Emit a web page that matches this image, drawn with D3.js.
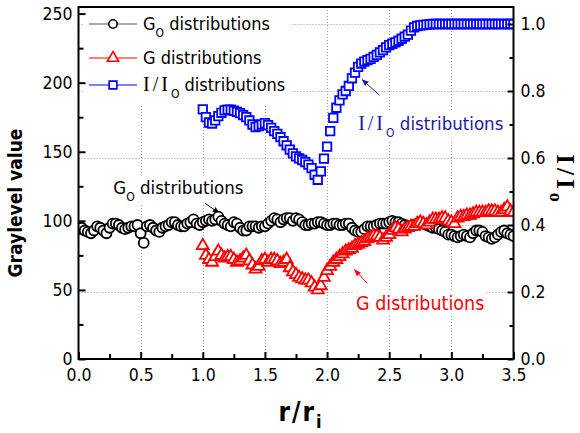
<!DOCTYPE html>
<html>
<head>
<meta charset="UTF-8">
<title>Graylevel distributions</title>
<style>
  body { margin: 0; background: #fff; }
  svg text { font-family: "DejaVu Sans Condensed", "DejaVu Sans", sans-serif; font-stretch: condensed; }
  .serif { font-family: "Liberation Serif", "Times New Roman", serif !important; font-stretch: normal !important; }
</style>
</head>
<body>
<svg width="580" height="433"></svg>
<script src="https://d3js.org/d3.v7.min.js"></script>
<script>

// ---- data ----
// G_O (black circles, left axis)
const goData = [
  [0.000,94],[0.025,95],[0.050,93],[0.075,92],[0.100,91],[0.125,93],[0.150,96],[0.175,95],[0.200,93],[0.225,91],
  [0.250,95],[0.275,98],[0.300,98],[0.325,97],[0.350,95],[0.375,94],[0.400,95],[0.425,96],[0.450,96],[0.475,97],
  [0.500,91],[0.525,84],[0.550,96],[0.575,97],[0.600,95],[0.625,93],[0.650,92],[0.675,95],[0.700,96],[0.725,97],
  [0.750,99],[0.775,99],[0.800,97],[0.825,96],[0.850,96],[0.875,98],[0.900,99],[0.925,101],[0.950,98],[0.975,97],
  [1.000,99],[1.025,100],[1.050,101],[1.075,100],[1.100,101],[1.125,103],[1.150,100],[1.175,98],[1.200,97],[1.225,96],
  [1.250,99],[1.275,98],[1.300,95],[1.325,93],[1.350,93],[1.375,96],[1.400,96],[1.425,96],[1.450,95],[1.475,96],
  [1.500,96],[1.525,98],[1.550,100],[1.575,102],[1.600,101],[1.625,99],[1.650,101],[1.675,102],[1.700,102],[1.725,100],
  [1.750,102],[1.775,101],[1.800,99],[1.825,97],[1.850,97],[1.875,98],[1.900,98],[1.925,99],[1.950,99],[1.975,98],
  [2.000,97],[2.025,97],[2.050,98],[2.075,98],[2.100,97],[2.125,97],[2.150,98],[2.175,98],[2.200,95],[2.225,93],
  [2.250,92],[2.275,92],[2.300,94],[2.325,96],[2.350,96],[2.375,96],[2.400,97],[2.425,98],[2.450,98],[2.475,98],
  [2.500,99],[2.525,100],[2.550,99],[2.575,99],[2.600,98],[2.625,97],[2.650,96],[2.675,96],[2.700,97],[2.725,98],
  [2.750,99],[2.775,98],[2.800,97],[2.825,96],[2.850,95],[2.875,95],[2.900,94],[2.925,93],[2.950,92],[2.975,90],
  [3.000,90],[3.025,89],[3.050,88],[3.075,89],[3.100,90],[3.125,89],[3.150,88],[3.175,91],[3.200,93],[3.225,93],
  [3.250,92],[3.275,89],[3.300,88],[3.325,87],[3.350,88],[3.375,90],[3.400,92],[3.425,93],[3.450,91],[3.475,90],
  [3.500,89]
];

// G (red triangles, left axis)
const gData = [
  [1.000,82],[1.025,75],[1.050,72],[1.075,70],[1.100,74],[1.125,78],[1.150,75],[1.175,73],[1.200,74],[1.225,74],
  [1.250,72],[1.275,70],[1.300,71],[1.325,73],[1.350,75],[1.375,71],[1.400,68],[1.425,65],[1.450,67],[1.475,71],
  [1.500,72],[1.525,70],[1.550,72],[1.575,72],[1.600,71],[1.625,69],[1.650,70],[1.675,72],[1.700,66],[1.725,63],
  [1.750,61],[1.775,59],[1.800,58],[1.825,57],[1.850,57],[1.875,55],[1.900,52],[1.925,50],[1.950,53],[1.975,59],
  [2.000,64],[2.025,67],[2.050,70],[2.075,72],[2.100,74],[2.125,76],[2.150,78],[2.175,79],[2.200,80],[2.225,82],
  [2.250,83],[2.275,84],[2.300,85],[2.325,87],[2.350,88],[2.375,89],[2.400,89],[2.425,88],[2.450,86],[2.475,88],
  [2.500,90],[2.525,93],[2.550,95],[2.575,94],[2.600,92],[2.625,94],[2.650,95],[2.675,96],[2.700,96],[2.725,98],
  [2.750,99],[2.775,98],[2.800,97],[2.825,99],[2.850,101],[2.875,101],[2.900,101],[2.925,102],[2.950,102],[2.975,100],
  [3.000,99],[3.025,98],[3.050,102],[3.075,103],[3.100,103],[3.125,104],[3.150,104],[3.175,105],[3.200,106],[3.225,106],
  [3.250,106],[3.275,106],[3.300,107],[3.325,107],[3.350,107],[3.375,106],[3.400,106],[3.425,108],[3.450,110],[3.475,107],
  [3.500,106]
];

// I/I_O (blue squares, right axis)
const ratioData = [
  [1.000,0.745],[1.025,0.722],[1.050,0.706],[1.075,0.703],[1.100,0.712],[1.125,0.725],[1.150,0.735],[1.175,0.742],[1.200,0.744],[1.225,0.744],
  [1.250,0.741],[1.275,0.738],[1.300,0.734],[1.325,0.728],[1.350,0.722],[1.375,0.712],[1.400,0.700],[1.425,0.692],[1.450,0.695],[1.475,0.700],
  [1.500,0.704],[1.525,0.698],[1.550,0.690],[1.575,0.680],[1.600,0.672],[1.625,0.662],[1.650,0.650],[1.675,0.638],[1.700,0.625],[1.725,0.614],
  [1.750,0.605],[1.775,0.599],[1.800,0.594],[1.825,0.588],[1.850,0.580],[1.875,0.570],[1.900,0.550],[1.925,0.535],[1.950,0.560],[1.975,0.598],
  [2.000,0.634],[2.025,0.680],[2.050,0.720],[2.075,0.750],[2.100,0.772],[2.125,0.790],[2.150,0.800],[2.175,0.815],[2.200,0.838],[2.225,0.855],
  [2.250,0.872],[2.275,0.882],[2.300,0.888],[2.325,0.892],[2.350,0.896],[2.375,0.902],[2.400,0.908],[2.425,0.915],[2.450,0.922],[2.475,0.930],
  [2.500,0.937],[2.525,0.941],[2.550,0.945],[2.575,0.950],[2.600,0.956],[2.625,0.962],[2.650,0.968],[2.675,0.980],[2.700,0.990],[2.725,0.994],
  [2.750,0.996],[2.775,0.997],[2.800,0.998],[2.825,0.999],[2.850,1.000],[2.875,1.000],[2.900,1.000],[2.925,1.000],[2.950,1.000],[2.975,1.000],
  [3.000,1.000],[3.025,1.000],[3.050,1.000],[3.075,1.000],[3.100,1.000],[3.125,1.000],[3.150,1.000],[3.175,1.000],[3.200,1.000],[3.225,1.000],
  [3.250,1.000],[3.275,1.000],[3.300,1.000],[3.325,1.000],[3.350,1.000],[3.375,1.000],[3.400,1.000],[3.425,1.000],[3.450,1.000],[3.475,1.000],
  [3.500,1.000]
];

// tick values
const xMajor = [0, 0.5, 1.0, 1.5, 2.0, 2.5, 3.0, 3.5];
const xMinor = [0.25, 0.75, 1.25, 1.75, 2.25, 2.75, 3.25];
const leftMajor = [0, 50, 100, 150, 200, 250];
const leftMinor = [25, 75, 125, 175, 225];
const rightMajor = [0, 0.2, 0.4, 0.6, 0.8, 1.0];
const rightMinor = [0.1, 0.3, 0.5, 0.7, 0.9];
const xGrid = [0.5, 1.0, 1.5, 2.0, 2.5, 3.0];
const yGrid = [0.2, 0.4, 0.6, 0.8, 1.0];

// annotations (data units): text position, arrow from -> to
const annGo = { axis: "left", tx: 0.28, ty: 124.5, ax1: 1.018, ay1: 112.7, ax2: 1.136, ay2: 105.4 };
const annRatio = { axis: "right", tx: 2.25, ty: 0.704, ax1: 2.42, ay1: 0.788, ax2: 2.279, ay2: 0.835 };
const annG = { axis: "left", tx: 2.233, ty: 40.5, ax1: 2.324, ay1: 54.8, ax2: 2.217, ay2: 64.9 };

// ---- layout ----
const pL = 78.5, pR = 513.5, pT = 7, pB = 359;

let svg = d3.select("svg");

let x = d3.scaleLinear().domain([0, 3.5]).range([pL, pR]);
let yL = d3.scaleLinear().domain([0, 250]).range([pB, 13.6]);
let yR = d3.scaleLinear().domain([0, 1]).range([pB, 24]);

// arrow heads
svg.append("defs").selectAll("marker")
  .data([["ahBlack", "#000"], ["ahBlue", "#1a1aa6"], ["ahRed", "#ff0000"]])
  .enter().append("marker")
  .attr("id", d => d[0])
  .attr("viewBox", "0 0 10 10")
  .attr("refX", 10).attr("refY", 5)
  .attr("markerWidth", 7).attr("markerHeight", 7)
  .attr("markerUnits", "userSpaceOnUse")
  .attr("orient", "auto")
  .append("path").attr("d", "M0,1L10,5L0,9Z").attr("fill", d => d[1]);

svg.append("clipPath").attr("id", "plotClip")
  .append("rect").attr("x", pL).attr("y", pT).attr("width", pR - pL).attr("height", pB - pT);

// grid
let grid = svg.append("g").attr("stroke", "#999").attr("stroke-width", 1).attr("stroke-dasharray", "1,2");
grid.selectAll(".gx").data(xGrid).enter().append("line")
  .attr("x1", d => Math.round(x(d)) + 0.5).attr("x2", d => Math.round(x(d)) + 0.5)
  .attr("y1", pT).attr("y2", pB);
grid.selectAll(".gy").data(yGrid).enter().append("line")
  .attr("x1", pL).attr("x2", pR)
  .attr("y1", d => Math.round(yR(d)) + 0.5).attr("y2", d => Math.round(yR(d)) + 0.5);

// legend background (hides the grid behind it)
svg.append("rect").attr("x", 84).attr("y", 9).attr("width", 208).attr("height", 96).attr("fill", "#fff");

// annotation helper
function annotate(a, color, arrowId, size, parts) {
  let ys = a.axis == "left" ? yL : yR;
  let g = svg.append("g");
  let t = g.append("text")
    .attr("x", x(a.tx)).attr("y", ys(a.ty)).attr("dy", "0.36em")
    .attr("font-size", size).attr("fill", color);
  parts.forEach(p => {
    let s = t.append("tspan").text(p.t);
    if (p.cls) s.attr("class", p.cls);
    if (p.size) s.attr("font-size", p.size);
    if (p.dy) s.attr("dy", p.dy);
    if (p.ls) s.attr("letter-spacing", p.ls);
  });
  let bb = t.node().getBBox();
  g.insert("rect", "text")
    .attr("x", bb.x - 2).attr("y", bb.y - 1)
    .attr("width", bb.width + 4).attr("height", bb.height + 2)
    .attr("fill", "#fff");
  g.append("line")
    .attr("x1", x(a.ax1)).attr("y1", ys(a.ay1))
    .attr("x2", x(a.ax2)).attr("y2", ys(a.ay2))
    .attr("stroke", color).attr("stroke-width", 1)
    .attr("marker-end", "url(#" + arrowId + ")");
}

annotate(annGo, "#000", "ahBlack", 18.5,
  [{ t: "G" }, { t: "O", size: 12, dy: 7 }, { t: " distributions", dy: -7 }]);
annotate(annRatio, "#1a1aa6", "ahBlue", 18.5,
  [{ t: "I/I", cls: "serif", size: 20, ls: 3 }, { t: "O", size: 12, dy: 7 }, { t: " distributions", dy: -7 }]);
annotate(annG, "#ff0000", "ahRed", 19.5, [{ t: "G distributions" }]);

// series
let plot = svg.append("g").attr("clip-path", "url(#plotClip)");

plot.append("g").selectAll("circle")
  .data(goData).enter().append("circle")
  .attr("cx", d => x(d[0])).attr("cy", d => yL(d[1]))
  .attr("r", 5)
  .attr("fill", "#fff").attr("stroke", "#000").attr("stroke-width", 1.8);

plot.append("g").selectAll("path")
  .data(gData).enter().append("path")
  .attr("d", d3.symbol(d3.symbolTriangle, 62))
  .attr("transform", d => `translate(${x(d[0])},${yL(d[1])})`)
  .attr("fill", "#fff").attr("stroke", "#ff0000").attr("stroke-width", 1.8);

plot.append("g").selectAll("path")
  .data(ratioData).enter().append("path")
  .attr("d", d3.symbol(d3.symbolSquare, 72))
  .attr("transform", d => `translate(${x(d[0])},${yR(d[1])})`)
  .attr("fill", "#fff").attr("stroke", "#0000ff").attr("stroke-width", 1.8);

// frame
svg.append("rect")
  .attr("x", pL).attr("y", pT).attr("width", pR - pL).attr("height", pB - pT)
  .attr("fill", "none").attr("stroke", "#000").attr("stroke-width", 2);

// axes
function styleAxis(g) {
  g.select(".domain").remove();
  g.selectAll("line").attr("stroke-width", 2);
  g.attr("font-size", 17.5).attr("font-family", null);
}

svg.append("g").attr("transform", `translate(0,${pB})`)
  .call(d3.axisBottom(x).tickValues(xMajor).tickSizeInner(-7).tickSizeOuter(0).tickPadding(10).tickFormat(d3.format(".1f")))
  .call(styleAxis);
svg.append("g").attr("transform", `translate(0,${pB})`)
  .call(d3.axisBottom(x).tickValues(xMinor).tickSizeInner(-5).tickSizeOuter(0).tickFormat(""))
  .call(styleAxis);

svg.append("g").attr("transform", `translate(${pL},0)`)
  .call(d3.axisLeft(yL).tickValues(leftMajor).tickSizeInner(-7).tickSizeOuter(0).tickPadding(6))
  .call(styleAxis);
svg.append("g").attr("transform", `translate(${pL},0)`)
  .call(d3.axisLeft(yL).tickValues(leftMinor).tickSizeInner(-5).tickSizeOuter(0).tickFormat(""))
  .call(styleAxis);

svg.append("g").attr("transform", `translate(${pR},0)`)
  .call(d3.axisRight(yR).tickValues(rightMajor).tickSizeInner(-6).tickSizeOuter(0).tickPadding(7).tickFormat(d3.format(".1f")))
  .call(styleAxis);
svg.append("g").attr("transform", `translate(${pR},0)`)
  .call(d3.axisRight(yR).tickValues(rightMinor).tickSizeInner(-4).tickSizeOuter(0).tickFormat(""))
  .call(styleAxis);

// axis titles
svg.append("text")
  .attr("transform", "translate(22,203) rotate(-90)")
  .attr("text-anchor", "middle").attr("font-weight", "bold").attr("font-size", 19)
  .text("Graylevel value");

let xt = svg.append("text")
  .attr("x", 300).attr("y", 421)
  .attr("text-anchor", "middle").attr("font-weight", "bold").attr("font-size", 26);
xt.append("tspan").attr("letter-spacing", 2).text("r/r");
xt.append("tspan").attr("font-size", 18).attr("dy", 7).text("i");

let yt = svg.append("text")
  .attr("transform", "translate(557,178) rotate(90)")
  .attr("text-anchor", "middle").attr("font-weight", "bold");
yt.append("tspan").attr("class", "serif").attr("font-size", 25).attr("letter-spacing", 4).text("I/I");
yt.append("tspan").attr("class", "serif").attr("font-size", 18).attr("dy", 7).text("o");

// legend
const legendRows = [
  { y: 24, color: "#555", stroke: "#000", sym: "circle", parts: [{ t: "G" }, { t: "O", size: 12, dy: 7 }, { t: " distributions", dy: -7 }] },
  { y: 58, color: "#ff0000", stroke: "#ff0000", sym: "triangle", parts: [{ t: "G distributions" }] },
  { y: 85, color: "#0000ff", stroke: "#0000ff", sym: "square", parts: [{ t: "I/I", cls: "serif", size: 20, ls: 3 }, { t: "O", size: 12, dy: 7 }, { t: " distributions", dy: -7 }] }
];
let legend = svg.append("g");
legendRows.forEach(r => {
  legend.append("line").attr("x1", 89).attr("x2", 137).attr("y1", r.y).attr("y2", r.y)
    .attr("stroke", r.color).attr("stroke-width", 1.2);
  if (r.sym == "circle") {
    legend.append("circle").attr("cx", 113).attr("cy", r.y).attr("r", 4.2)
      .attr("fill", "#fff").attr("stroke", r.stroke).attr("stroke-width", 1.6);
  } else {
    legend.append("path")
      .attr("d", d3.symbol(r.sym == "triangle" ? d3.symbolTriangle : d3.symbolSquare, r.sym == "triangle" ? 55 : 60))
      .attr("transform", `translate(113,${r.y})`)
      .attr("fill", "#fff").attr("stroke", r.stroke).attr("stroke-width", 1.6);
  }
  let t = legend.append("text").attr("x", 143).attr("y", r.y).attr("dy", "0.36em").attr("font-size", 18);
  r.parts.forEach(p => {
    let s = t.append("tspan").text(p.t);
    if (p.cls) s.attr("class", p.cls);
    if (p.size) s.attr("font-size", p.size);
    if (p.dy) s.attr("dy", p.dy);
    if (p.ls) s.attr("letter-spacing", p.ls);
  });
});

</script>
</body>
</html>
